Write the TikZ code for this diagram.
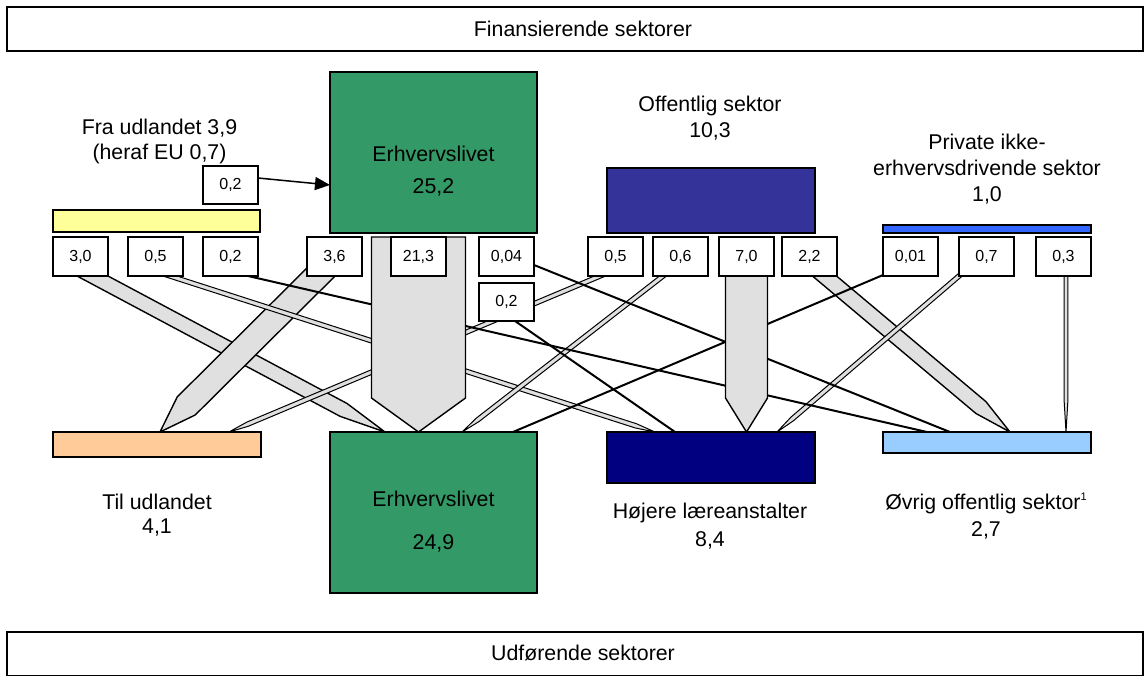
\documentclass[tikz,border=0pt]{standalone}
\usepackage{fontspec}
\setmainfont{Liberation Sans}
\usetikzlibrary{calc,arrows.meta}
\pgfdeclarelayer{diag}
\pgfdeclarelayer{thin}
\pgfdeclarelayer{vert}
\pgfsetlayers{diag,thin,vert,main}
\definecolor{ergreen}{RGB}{51,153,102}
\definecolor{offblue}{RGB}{51,51,153}
\definecolor{hojnavy}{RGB}{0,0,128}
\definecolor{udyellow}{RGB}{255,255,153}
\definecolor{pribar}{RGB}{51,102,255}
\definecolor{udorange}{RGB}{255,204,153}
\definecolor{ovlight}{RGB}{153,204,255}
\definecolor{flowgrey}{RGB}{224,224,224}
% #1 style, #2 start, #3 tip, #4 half width, #5 head length, #6 back extension
\newcommand\flowband[6]{%
  \coordinate (fS) at ($(#2)!-#6!(#3)$);
  \coordinate (fH) at ($(#3)!#5!(#2)$);
  \draw[#1] ($(fS)!#4!90:(#3)$) -- ($(fH)!#4!90:(#3)$) -- (#3)
    -- ($(fH)!#4!-90:(#3)$) -- ($(fS)!#4!-90:(#3)$) -- cycle;
}
\tikzset{
  fatflow/.style={draw=black, fill=flowgrey, line width=1.4pt, line join=miter},
  narrowflow/.style={draw=black, fill=flowgrey, line width=1pt, line join=miter},
  singleflow/.style={draw=black, line width=2pt},
  numbox/.style={draw=black, fill=white, line width=1.5pt, minimum width=55pt,
    minimum height=39pt, inner sep=0pt, outer sep=0pt, font=\fontsize{16}{19}\selectfont},
  sect/.style={draw=black, line width=1.5pt, inner sep=0pt, outer sep=0pt},
  lbl/.style={inner sep=0pt, anchor=base, font=\fontsize{21.33}{25}\selectfont},
}
\begin{document}
\begin{tikzpicture}[x=1pt,y=-1pt]
\useasboundingbox (0,0) rectangle (1146,675);

% header and footer bars
\node[sect, fill=white, minimum width=1136pt, minimum height=44pt] (fin) at (575,29) {};
\node[lbl] (finL) at (583,36.5) {Finansierende sektorer};
\node[sect, fill=white, minimum width=1136pt, minimum height=44pt] (udf) at (575,654) {};
\node[lbl] (udfL) at (583,660) {Udførende sektorer};

% financing sectors
\node[sect, fill=ergreen, minimum width=207pt, minimum height=161pt] (erT) at (433.5,152.5) {};
\node[sect, fill=offblue, minimum width=208pt, minimum height=65pt] (offT) at (711,200.5) {};
\node[sect, fill=udyellow, minimum width=207pt, minimum height=22pt] (udT) at (156.5,221) {};
\node[sect, fill=pribar, minimum width=208pt, minimum height=8pt] (priT) at (987,229) {};

% performing sectors
\node[sect, fill=udorange, minimum width=208pt, minimum height=25pt] (udB) at (157,444.5) {};
\node[sect, fill=ergreen, minimum width=207pt, minimum height=161pt] (erB) at (433.5,512.5) {};
\node[sect, fill=hojnavy, minimum width=208pt, minimum height=51pt] (hojB) at (711,457.5) {};
\node[sect, fill=ovlight, minimum width=208pt, minimum height=21pt] (ovB) at (987,442.5) {};

% value boxes
\node[numbox, minimum height=38pt] (udEU) at (230.5,185) {0,2};
\node[numbox] (a30) at (80.5,256.5) {3,0};
\node[numbox] (a05) at (155.5,256.5) {0,5};
\node[numbox] (a02) at (230.5,256.5) {0,2};
\node[numbox] (b36) at (334.5,256.5) {3,6};
\node[numbox] (b213) at (418.5,256.5) {21,3};
\node[numbox] (b004) at (506.5,256.5) {0,04};
\node[numbox, minimum height=38pt] (b02) at (506.5,302) {0,2};
\node[numbox] (c05) at (615.5,256.5) {0,5};
\node[numbox] (c06) at (680.5,256.5) {0,6};
\node[numbox] (c70) at (746.5,256.5) {7,0};
\node[numbox] (c22) at (809.5,256.5) {2,2};
\node[numbox] (d001) at (910.5,256.5) {0,01};
\node[numbox] (d07) at (986.5,256.5) {0,7};
\node[numbox] (d03) at (1063.5,256.5) {0,3};

% labels
\node[lbl] (fraL1) at (159.5,134) {Fra udlandet 3,9};
\node[lbl] (fraL2) at (159.5,159) {(heraf EU 0,7)};
\node[lbl] (offL1) at (710,111) {Offentlig sektor};
\node[lbl] (offL2) at (710,137) {10,3};
\node[lbl] (priL1) at (987,149) {Private ikke-};
\node[lbl] (priL2) at (987,175) {erhvervsdrivende sektor};
\node[lbl] (priL3) at (987,201) {1,0};
\node[lbl] (erTL1) at (433.5,161) {Erhvervslivet};
\node[lbl] (erTL2) at (433.5,193) {25,2};
\node[lbl] (udBL1) at (157,509) {Til udlandet};
\node[lbl] (udBL2) at (157,533) {4,1};
\node[lbl] (erBL1) at (433.5,506) {Erhvervslivet};
\node[lbl] (erBL2) at (433.5,549) {24,9};
\node[lbl] (hojL1) at (710,518) {Højere læreanstalter};
\node[lbl] (hojL2) at (710,546) {8,4};
\node[lbl] (ovL1) at (986,509) {Øvrig offentlig sektor\raisebox{9pt}{\fontsize{11}{11}\selectfont 1}};
\node[lbl] (ovL2) at (986,536) {2,7};

% EU arrow
\coordinate (euS) at ($(udEU.east)+(0,-7)$);
\coordinate (euT) at ($(erT.west)+(0,32.5)$);
\draw[line width=1.5pt, -{Triangle[length=15pt,width=13pt]}] (euS) -- (euT);

% flow end points
\coordinate (s30) at ($(a30.south)+(12,0)$);
\coordinate (t30) at ($(erB.north west)+(55,0)$);
\coordinate (s36) at ($(b36.south)+(-17.5,0)$);
\coordinate (t36) at ($(udB.north west)+(107,0)$);
\coordinate (s22) at ($(c22.south)+(15,0)$);
\coordinate (t22) at ($(ovB.north west)+(127,0)$);
\coordinate (s05u) at ($(a05.south)+(14.5,0)$);
\coordinate (t05u) at ($(hojB.north west)+(48,0)$);
\coordinate (s05o) at ($(c05.south)+(-15.5,0)$);
\coordinate (t05o) at ($(udB.north west)+(176,0)$);
\coordinate (s06) at ($(c06.south)+(-17.5,0)$);
\coordinate (t06) at ($(erB.north west)+(132,0)$);
\coordinate (s07) at (d07.south west);
\coordinate (t07) at ($(hojB.north west)+(170,0)$);
\coordinate (s03) at ($(d03.south)+(2.5,0)$);
\coordinate (t03) at ($(ovB.north west)+(183,0)$);
\coordinate (s02u) at ($(a02.south)+(17.5,0)$);
\coordinate (t02u) at ($(ovB.north west)+(44,0)$);
\coordinate (s004) at ($(b004.east)+(0,8.5)$);
\coordinate (t004) at ($(ovB.north west)+(67,0)$);
\coordinate (s02e) at ($(b02.south)+(8.5,0)$);
\coordinate (t02e) at ($(hojB.north west)+(68,0)$);
\coordinate (s001) at ($(d001.south west)+(0,-1)$);
\coordinate (t001) at ($(erB.north west)+(183,0)$);
\coordinate (s213) at (b213.north);
\coordinate (t213) at (b213.north |- erB.north);
\coordinate (s70) at (c70.center);
\coordinate (t70) at (c70.center |- hojB.north);

\begin{pgfonlayer}{diag}
  \flowband{fatflow}{s30}{t30}{7.3pt}{47pt}{20pt}
  \flowband{fatflow}{s36}{t36}{12.75pt}{37pt}{20pt}
  \flowband{fatflow}{s22}{t22}{7.75pt}{38pt}{20pt}
\end{pgfonlayer}

\begin{pgfonlayer}{thin}
  \flowband{narrowflow}{s05u}{t05u}{2.2pt}{20pt}{10pt}
  \flowband{narrowflow}{s05o}{t05o}{2.2pt}{20pt}{10pt}
  \flowband{narrowflow}{s06}{t06}{2.2pt}{20pt}{10pt}
  \flowband{narrowflow}{s07}{t07}{2.2pt}{20pt}{10pt}
  \flowband{narrowflow}{s03}{t03}{1.8pt}{30pt}{10pt}
  \draw[singleflow] (s02u) -- (t02u);
  \draw[singleflow] (s004) -- (t004);
  \draw[singleflow] (s02e) -- (t02e);
  \draw[singleflow] (s001) -- (t001);
\end{pgfonlayer}

\begin{pgfonlayer}{vert}
  \flowband{fatflow}{s213}{t213}{47pt}{34pt}{0pt}
  \flowband{fatflow}{s70}{t70}{21pt}{34pt}{0pt}
\end{pgfonlayer}
\end{tikzpicture}
\end{document}
